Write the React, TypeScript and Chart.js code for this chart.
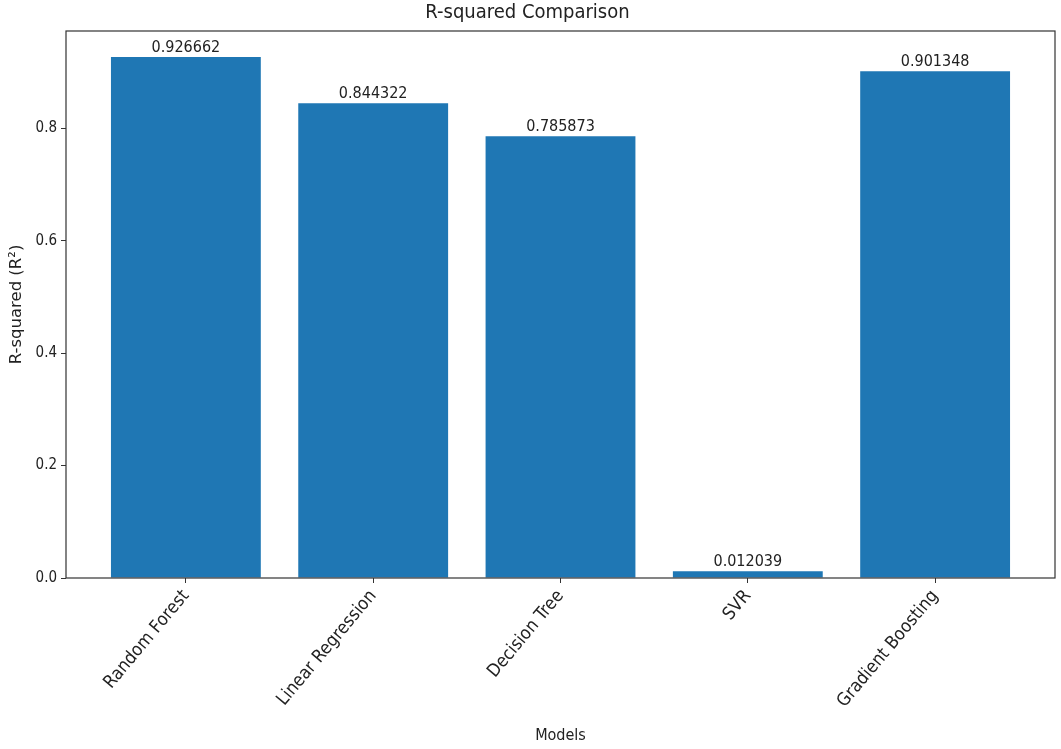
import React, { useEffect, useRef } from "react";
import { Chart, registerables } from "chart.js";

Chart.register(...registerables);

const categories = ["Random Forest", "Linear Regression", "Decision Tree", "SVR", "Gradient Boosting"];
const r2Values = [0.926662, 0.844322, 0.785873, 0.012039, 0.901348];
const yTickValues = [0, 0.2, 0.4, 0.6, 0.8];
const yMax = 0.973;
const xMin = -0.64;
const xMax = 4.64;

const FONT = "'DejaVu Sans', sans-serif";
const FONT_C = "'DejaVu Sans Condensed', 'DejaVu Sans', sans-serif";
const TEXT = "#222222";
const AXIS = "#333333";

const frame = {
  id: "frame",
  afterDraw(chart: any) {
    const { ctx, chartArea } = chart;
    ctx.save();
    ctx.strokeStyle = AXIS;
    ctx.lineWidth = 1.2;
    ctx.strokeRect(chartArea.left, chartArea.top, chartArea.right - chartArea.left, chartArea.bottom - chartArea.top);
    ctx.restore();
  },
};

const barLabels = {
  id: "barLabels",
  afterDatasetsDraw(chart: any) {
    const { ctx } = chart;
    const meta = chart.getDatasetMeta(0);
    ctx.save();
    ctx.fillStyle = TEXT;
    ctx.font = `16px ${FONT_C}`;
    ctx.textAlign = "center";
    ctx.textBaseline = "bottom";
    meta.data.forEach((bar: any, i: number) => {
      ctx.fillText(r2Values[i].toFixed(6), bar.x, bar.y - 1);
    });
    ctx.restore();
  },
};

export default function App() {
  const ref = useRef<HTMLCanvasElement>(null);
  useEffect(() => {
    if (!ref.current) return;
    const chart = new Chart(ref.current, {
      type: "bar",
      data: {
        datasets: [
          {
            data: categories.map((_, i) => ({ x: i, y: r2Values[i] })) as any,
            backgroundColor: "#1f77b4",
            borderWidth: 0,
            barPercentage: 1,
            categoryPercentage: 0.8,
          },
        ],
      },
      options: {
        responsive: false,
        animation: false,
        devicePixelRatio: 1,
        layout: { padding: { left: 0, right: 6, top: 0, bottom: 0 } },
        plugins: {
          legend: { display: false },
          tooltip: { enabled: false },
          title: {
            display: true,
            text: "R-squared Comparison",
            color: TEXT,
            font: { family: FONT_C, size: 20, weight: "normal" },
            padding: { top: 1, bottom: 6 },
          },
        },
        scales: {
          x: {
            type: "linear",
            min: xMin,
            max: xMax,
            offset: false,
            afterBuildTicks: (axis: any) => {
              axis.ticks = categories.map((_, i) => ({ value: i }));
            },
            afterFit: (axis: any) => {
              axis.height = 171;
            },
            ticks: {
              callback: (v: any) => categories[Math.round(Number(v))] ?? "",
              maxRotation: 50,
              minRotation: 50,
              autoSkip: false,
              color: TEXT,
              font: { family: FONT_C, size: 18 },
              padding: 3,
            },
            grid: { offset: false, drawOnChartArea: false, drawTicks: true, tickLength: 5, color: AXIS },
            border: { display: false },
            title: {
              display: true,
              text: "Models",
              color: TEXT,
              font: { family: FONT_C, size: 16 },
              padding: { top: 0, bottom: 4 },
            },
          },
          y: {
            min: 0,
            max: yMax,
            afterBuildTicks: (axis: any) => {
              axis.ticks = yTickValues.map((v) => ({ value: v }));
            },
            afterFit: (axis: any) => {
              axis.width = 66;
            },
            ticks: {
              callback: (v: any) => Number(v).toFixed(1),
              color: TEXT,
              font: { family: FONT_C, size: 15 },
              padding: 4,
            },
            grid: { drawOnChartArea: false, drawTicks: true, tickLength: 5, color: AXIS },
            border: { display: false },
            title: {
              display: true,
              text: "R-squared (R²)",
              color: TEXT,
              font: { family: FONT, size: 16.5 },
              padding: { top: 7, bottom: 0 },
            },
          },
        },
      },
      plugins: [frame, barLabels],
    } as any);
    return () => chart.destroy();
  }, []);
  return (
    <div style={{ position: "absolute", left: 0, top: 0, width: 1061, height: 749, background: "#fff" }}>
      <canvas ref={ref} width={1061} height={749} style={{ display: "block" }} />
    </div>
  );
}
